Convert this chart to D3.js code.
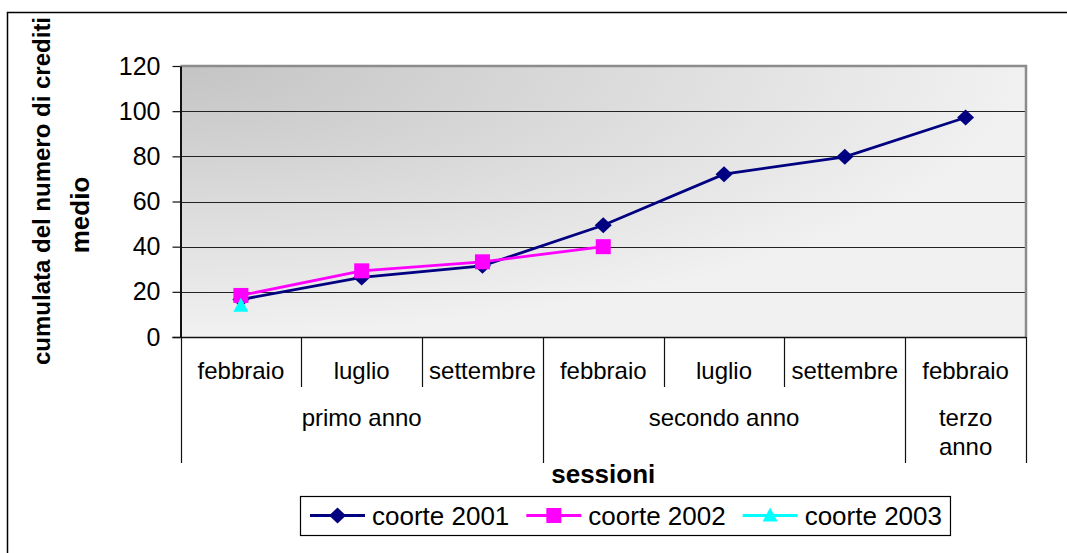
<!DOCTYPE html>
<html>
<head>
<meta charset="utf-8">
<script src="https://cdn.jsdelivr.net/npm/d3@7"></script>
<style>
  body { margin: 0; background: #fff; }
  svg { display: block; font-family: 'Liberation Sans', Arial, sans-serif; }
</style>
</head>
<body>
<svg id="chart" width="1067" height="553"></svg>
<script>
// data
var sessions = ['febbraio', 'luglio', 'settembre', 'febbraio', 'luglio', 'settembre', 'febbraio'];
var yearLabels = [['primo anno'], ['secondo anno'], ['terzo', 'anno']];
var yearSpans = [3, 3, 1];
var yTicks = [0, 20, 40, 60, 80, 100, 120];

var coorte2001 = [16.6, 26.4, 31.5, 49.5, 72.1, 79.8, 97.2];
var coorte2002 = [18.4, 29.3, 33.3, 40.0];
var coorte2003 = [13.8];

var seriesNames = ['coorte 2001', 'coorte 2002', 'coorte 2003'];
var seriesColors = ['#000080', '#ff00ff', '#00ffff'];
var seriesShapes = ['diamond', 'square', 'triangle'];
var seriesValues = [coorte2001, coorte2002, coorte2003];

var plot = {left: 180.5, right: 1026, top: 66, bottom: 337};

var svg = d3.select('#chart');

// outer frame (cut at right and bottom like the picture)
svg.append('rect')
    .attr('x', 7.5).attr('y', 12.5)
    .attr('width', 1100).attr('height', 600)
    .attr('fill', 'none')
    .attr('stroke', '#000')
    .attr('stroke-width', 1.5)

var x = d3.scaleBand()
    .domain(d3.range(sessions.length))
    .range([plot.left, plot.right])
    .paddingInner(0).paddingOuter(0)

var y = d3.scaleLinear()
    .domain([0, 120])
    .range([plot.bottom, plot.top])

// background gradient
var defs = svg.append('defs')
var grad = defs.append('radialGradient')
    .attr('id', 'bg')
    .attr('cx', 0).attr('cy', 0).attr('r', 1)
    .attr('fx', 0).attr('fy', 0)
grad.append('stop').attr('offset', '0%').attr('stop-color', '#c4c4c4')
grad.append('stop').attr('offset', '100%').attr('stop-color', '#f1f1f1')

svg.append('rect')
    .attr('x', plot.left).attr('y', plot.top)
    .attr('width', plot.right - plot.left)
    .attr('height', plot.bottom - plot.top)
    .attr('fill', 'url(#bg)')

// gridlines
svg.append('g')
    .selectAll('line')
    .data(yTicks.filter(function (d) { return d > 0 && d < 120; }))
    .enter()
    .append('line')
    .attr('x1', plot.left).attr('x2', plot.right)
    .attr('y1', function (d) { return Math.round(y(d)) + 0.5; })
    .attr('y2', function (d) { return Math.round(y(d)) + 0.5; })
    .attr('stroke', '#222')
    .attr('stroke-width', 1)

// top and right frame of plot
svg.append('path')
    .attr('d', 'M' + plot.left + ',' + plot.top + 'H' + plot.right + 'V' + plot.bottom)
    .attr('fill', 'none')
    .attr('stroke', '#8c8c8c')
    .attr('stroke-width', 2.5)

// Y-axis
var yAxis = d3.axisLeft(y)
    .tickValues(yTicks)
    .tickSize(8)
    .tickPadding(12)
    .tickSizeOuter(0)

var gy = svg.append('g')
    .attr('transform', 'translate(' + plot.left + ',0)')
    .call(yAxis)
gy.select('.domain').attr('stroke', '#111').attr('stroke-width', 2)
gy.selectAll('.tick line').attr('stroke', '#111').attr('stroke-width', 1.2)
gy.selectAll('.tick text')
    .attr('font-size', 25)
    .attr('font-family', "'Liberation Sans', Arial, sans-serif")
    .attr('fill', '#000')

// X axis baseline
svg.append('line')
    .attr('x1', plot.left - 8).attr('x2', plot.right)
    .attr('y1', plot.bottom + 0.5).attr('y2', plot.bottom + 0.5)
    .attr('stroke', '#111')
    .attr('stroke-width', 1.5)

// category separators
var groupStarts = [0];
yearSpans.forEach(function (s, i) { groupStarts.push(groupStarts[i] + s); });

var bounds = d3.range(sessions.length + 1)
svg.append('g')
    .selectAll('line')
    .data(bounds)
    .enter()
    .append('line')
    .attr('x1', function (d) { return Math.round(plot.left + d * x.bandwidth()) + 0.5; })
    .attr('x2', function (d) { return Math.round(plot.left + d * x.bandwidth()) + 0.5; })
    .attr('y1', plot.bottom)
    .attr('y2', function (d) { return groupStarts.indexOf(d) >= 0 ? 463 : 387; })
    .attr('stroke', '#111')
    .attr('stroke-width', 1.2)

// session labels
svg.append('g')
    .selectAll('text')
    .data(sessions)
    .enter()
    .append('text')
    .attr('x', function (d, i) { return x(i) + x.bandwidth() / 2; })
    .attr('y', 379)
    .attr('text-anchor', 'middle')
    .attr('font-size', 24)
    .text(function (d) { return d; })

// year labels
var yearG = svg.append('g')
    .selectAll('text')
    .data(yearLabels)
    .enter()
    .append('text')
    .attr('text-anchor', 'middle')
    .attr('font-size', 24)
    .attr('transform', function (d, i) {
        var cx = plot.left + (groupStarts[i] + yearSpans[i] / 2) * x.bandwidth();
        return 'translate(' + cx + ',426)';
    })
yearG.selectAll('tspan')
    .data(function (d) { return d; })
    .enter()
    .append('tspan')
    .attr('x', 0)
    .attr('y', function (d, i) { return i * 29; })
    .text(function (d) { return d; })

// axis titles
svg.append('text')
    .attr('x', (plot.left + plot.right) / 2)
    .attr('y', 483)
    .attr('text-anchor', 'middle')
    .attr('font-size', 26)
    .attr('font-weight', 'bold')
    .text('sessioni')

svg.append('text')
    .attr('transform', 'translate(50,191) rotate(-90)')
    .attr('text-anchor', 'middle')
    .attr('font-size', 24)
    .attr('font-weight', 'bold')
    .text('cumulata del numero di crediti')

svg.append('text')
    .attr('transform', 'translate(89,215) rotate(-90)')
    .attr('text-anchor', 'middle')
    .attr('font-size', 26)
    .attr('font-weight', 'bold')
    .text('medio')

// markers
function markerPath(shape) {
    if (shape === 'diamond') return 'M0,-8L8.5,0L0,8L-8.5,0Z';
    if (shape === 'square') return 'M-7.5,-7.5H7.5V7.5H-7.5Z';
    return 'M0,-8L7.5,6L-7.5,6Z';
}

var line = d3.line()
    .x(function (d, i) { return x(i) + x.bandwidth() / 2; })
    .y(function (d) { return y(d); })

seriesValues.forEach(function (vals, s) {
    var g = svg.append('g')
    g.append('path')
        .datum(vals)
        .attr('d', line)
        .attr('fill', 'none')
        .attr('stroke', seriesColors[s])
        .attr('stroke-width', 2.8)
    g.selectAll('path.m')
        .data(vals)
        .enter()
        .append('path')
        .attr('class', 'm')
        .attr('transform', function (d, i) {
            return 'translate(' + (x(i) + x.bandwidth() / 2) + ',' + y(d) + ')';
        })
        .attr('d', markerPath(seriesShapes[s]))
        .attr('fill', seriesColors[s])
})

// legend
var legend = svg.append('g')
var lx = 310, legTop = 496, legH = 39, legMid = legTop + legH / 2
seriesNames.forEach(function (name, s) {
    legend.append('line')
        .attr('x1', lx).attr('x2', lx + 55)
        .attr('y1', legMid).attr('y2', legMid)
        .attr('stroke', seriesColors[s])
        .attr('stroke-width', 2.8)
    legend.append('path')
        .attr('transform', 'translate(' + (lx + 27.5) + ',' + legMid + ')')
        .attr('d', markerPath(seriesShapes[s]))
        .attr('fill', seriesColors[s])
    var t = legend.append('text')
        .attr('x', lx + 62)
        .attr('y', legMid + 9)
        .attr('font-size', 26)
        .text(name)
    lx = lx + 62 + t.node().getComputedTextLength() + 17
})
legend.insert('rect', ':first-child')
    .attr('x', 300.5).attr('y', legTop + 0.5)
    .attr('width', lx - 17 + 8 - 300)
    .attr('height', legH)
    .attr('fill', '#fff')
    .attr('stroke', '#000')
    .attr('stroke-width', 1.2)
</script>
</body>
</html>
